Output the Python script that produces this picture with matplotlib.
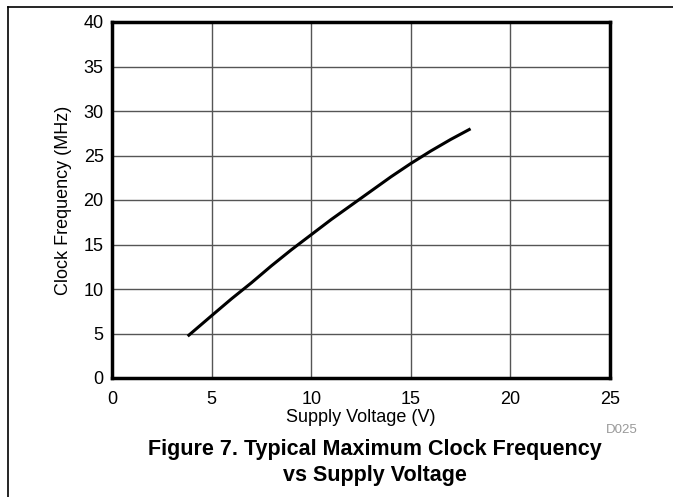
import matplotlib
matplotlib.use('Agg')
import matplotlib.pyplot as plt
from matplotlib.lines import Line2D
from matplotlib import rcParams

rcParams.update({
    'font.family': ['Liberation Sans', 'DejaVu Sans'],
    'font.size': 13,
})

# supply voltage (V) vs typical max clock frequency (MHz)
voltage = [3.8, 5, 6, 7, 8, 9, 10, 11, 12, 13, 14, 15, 16, 17, 18]
freq = [4.7, 7.0, 8.9, 10.7, 12.6, 14.4, 16.1, 17.8, 19.4, 21.0, 22.6, 24.1, 25.5, 26.8, 28.0]

x_ticks = [0, 5, 10, 15, 20, 25]
y_ticks = [0, 5, 10, 15, 20, 25, 30, 35, 40]

fig = plt.figure(figsize=(6.73, 4.97), dpi=100)
ax = fig.add_axes([112 / 673, 1 - 378 / 497, 498 / 673, 356 / 497])

ax.plot(voltage, freq, color='k', lw=2.2, solid_capstyle='butt')

ax.set_xlim(0, 25)
ax.set_ylim(0, 40)
ax.set_xticks(x_ticks)
ax.set_yticks(y_ticks)
ax.grid(True, color='#555555', lw=1.0)
ax.set_axisbelow(True)
ax.tick_params(length=0, labelsize=13)
ax.tick_params(axis='x', pad=9)
ax.tick_params(axis='y', pad=6)
for s in ax.spines.values():
    s.set_linewidth(2.5)
    s.set_color('k')

ax.set_xlabel('Supply Voltage (V)', fontsize=13, labelpad=1)
ax.set_ylabel('Clock Frequency (MHz)', fontsize=13, labelpad=8)

fig.text(622 / 673, 1 - 430 / 497, 'D025', fontsize=9.5, color='#999999',
         ha='center', va='center')
fig.text(375 / 673, 1 - 450 / 497, 'Figure 7. Typical Maximum Clock Frequency',
         fontsize=15.5, fontweight='bold', ha='center', va='center')
fig.text(375 / 673, 1 - 475 / 497, 'vs Supply Voltage',
         fontsize=15.5, fontweight='bold', ha='center', va='center')

# page frame (left and top rules)
fig.add_artist(Line2D([8 / 673, 8 / 673], [0, 1 - 7 / 497], color='k', lw=1.2,
                      transform=fig.transFigure))
fig.add_artist(Line2D([8 / 673, 1], [1 - 7 / 497, 1 - 7 / 497], color='k', lw=1.2,
                      transform=fig.transFigure))

fig.savefig('out.png', dpi=100)
